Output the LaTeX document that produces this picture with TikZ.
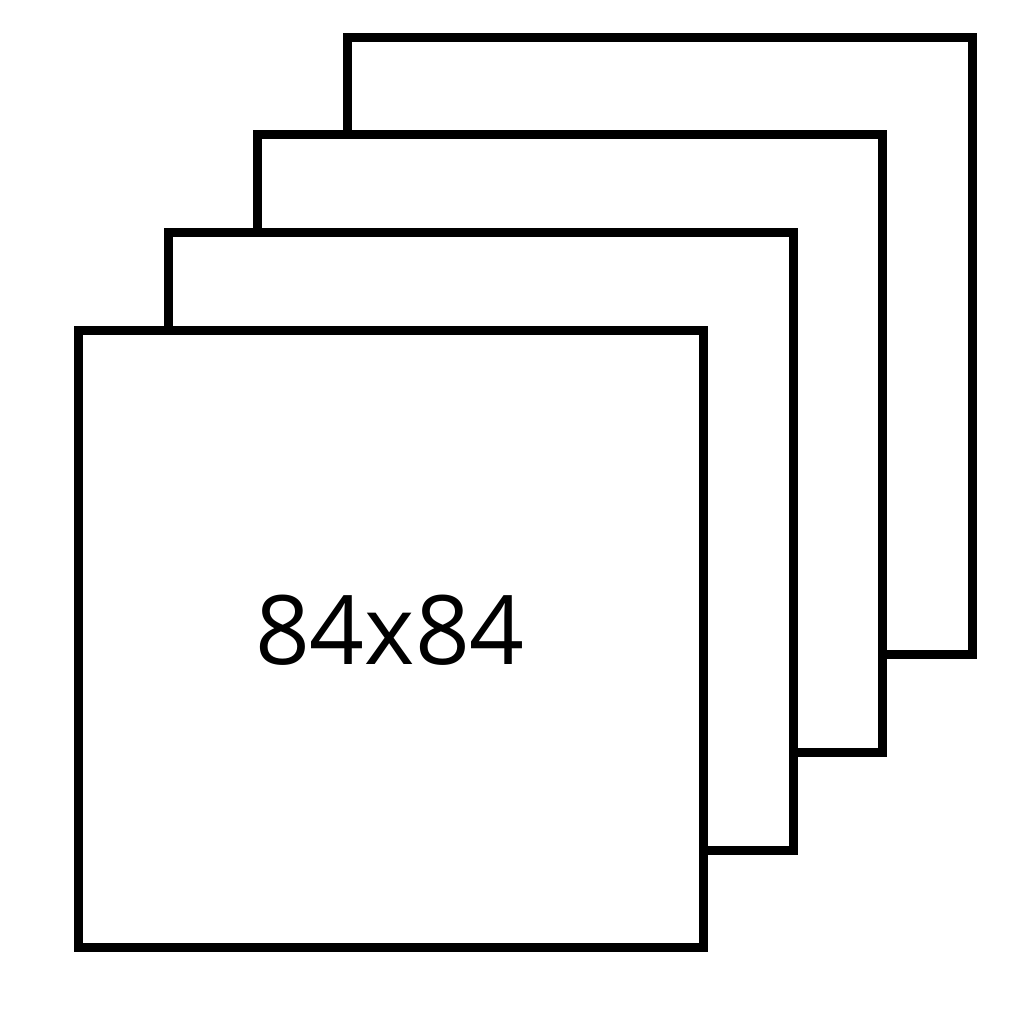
\documentclass[tikz,border=0pt]{standalone}
\usepackage{fontspec}
\setmainfont{Open Sans}

\begin{document}
\begin{tikzpicture}
		% Define styles
		\tikzstyle{sheet} = [rectangle, draw=black, fill=white, line width=0.09cm,
		minimum width=6.25cm, minimum height=6.175cm, inner sep=0pt]
		\tikzstyle{sizelabel} = [font=\fontsize{27.3}{33}\selectfont, inner sep=0pt]
		
		% Canvas
		\useasboundingbox (0,0) rectangle (10.24,10.24);
		
		% Place sheets, back to front
		\node [sheet] (back) at (6.60,6.78) {};
		\node [sheet] (third) at ([shift={(-0.897,-0.977)}]back.center) {};
		\node [sheet] (second) at ([shift={(-0.897,-0.977)}]third.center) {};
		\node [sheet] (front) at ([shift={(-0.897,-0.977)}]second.center) {};
		
		% Size of the front sheet
		\node [sizelabel] (size) at ([shift={(-0.01,0.085)}]front.center) {84x84};
	\end{tikzpicture}
\end{document}
